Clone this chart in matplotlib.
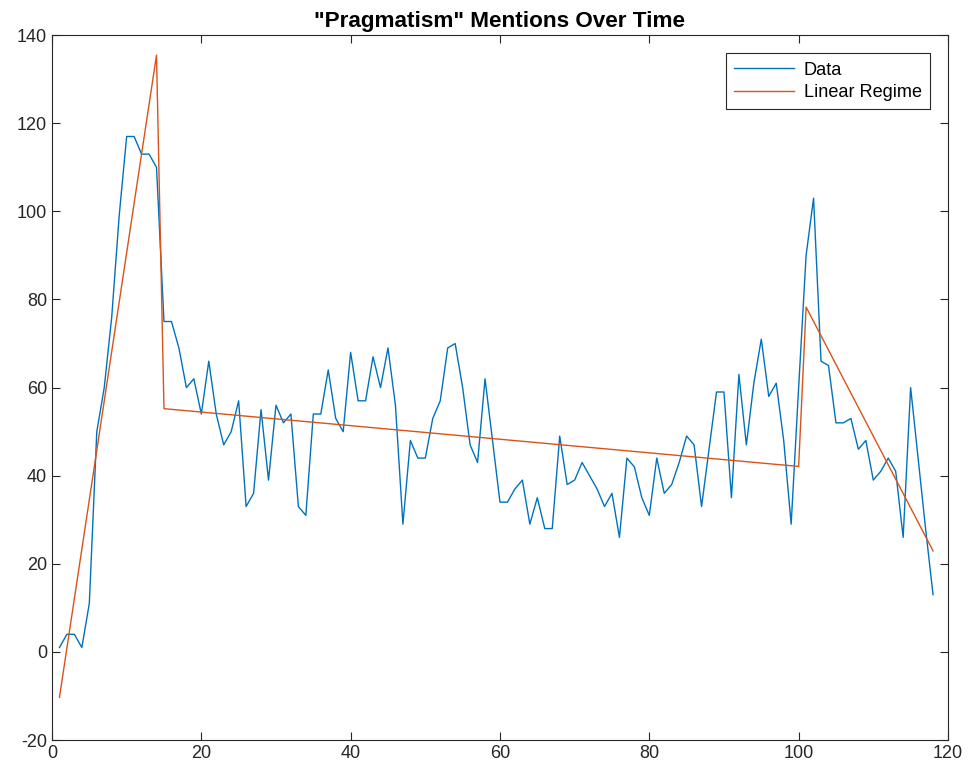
import numpy as np
import matplotlib
matplotlib.use("Agg")
import matplotlib.pyplot as plt

# mention counts per time step
counts = [1, 4, 4, 1, 11, 50, 60, 76, 99, 117, 117, 113, 113, 110,
          75, 75, 69, 60, 62, 54, 66, 54, 47, 50, 57, 33, 36, 55, 39, 56,
          52, 54, 33, 31, 54, 54, 64, 53, 50, 68, 57, 57, 67, 60, 69, 56,
          29, 48, 44, 44, 53, 57, 69, 70, 60, 47, 43, 62, 48, 34, 34, 37,
          39, 29, 35, 28, 28, 49, 38, 39, 43, 40, 37, 33, 36, 26, 44, 42,
          35, 31, 44, 36, 38, 43, 49, 47, 33, 46, 59, 59, 35, 63, 47, 61,
          71, 58, 61, 48, 29, 60,
          90, 103, 66, 65, 52, 52, 53, 46, 48, 39, 41, 44, 41, 26, 60, 44,
          28, 13]
t = np.arange(1, len(counts) + 1)

# regime boundaries (first and last time step of each linear regime)
regime_start = [1, 15, 101]
regime_end = [14, 100, 118]

xticks = [0, 20, 40, 60, 80, 100, 120]
yticks = [-20, 0, 20, 40, 60, 80, 100, 120, 140]

plt.rcParams["font.family"] = ["Liberation Sans", "DejaVu Sans"]
plt.rcParams["axes.unicode_minus"] = False

# straight-line fit inside each regime
y = np.array(counts, dtype=float)
fit_x = []
fit_y = []
for a, b in zip(regime_start, regime_end):
    mask = (t >= a) & (t <= b)
    p = np.polyfit(t[mask], y[mask], 1)
    fit_x += [a, b]
    fit_y += list(np.polyval(p, [a, b]))

fig = plt.figure(figsize=(9.68, 7.78), dpi=100)
ax = fig.add_axes([0.0537, 0.0488, 0.9256, 0.906])

ax.plot(t, counts, color="#0072BD", lw=1.0, label="Data")
ax.plot(fit_x, fit_y, color="#D95319", lw=1.0, label="Linear Regime")

ax.set_xlim(0, 120)
ax.set_ylim(-20, 140)
ax.set_xticks(xticks)
ax.set_yticks(yticks)
ax.tick_params(direction="in", top=True, right=True, length=6,
               labelsize=13, color="#262626", labelcolor="#262626")
for s in ax.spines.values():
    s.set_linewidth(0.8)
    s.set_color("#262626")

ax.set_title('"Pragmatism" Mentions Over Time', fontsize=16.2,
             fontweight="bold", pad=6)

leg = ax.legend(loc="upper right", fontsize=13.1, fancybox=False,
                framealpha=1, edgecolor="#262626", handlelength=3.3,
                handletextpad=0.5, borderaxespad=1.0, borderpad=0.45,
                labelspacing=0.3)
leg.get_frame().set_linewidth(0.8)

fig.savefig("out.png", dpi=100)
